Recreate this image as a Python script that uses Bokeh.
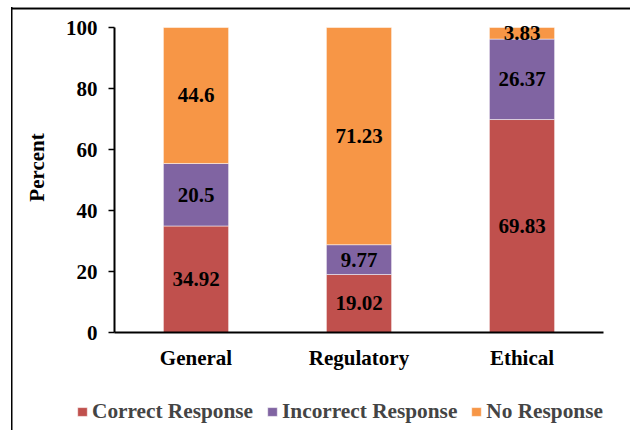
import math
from bokeh.plotting import figure
from bokeh.models import (ColumnDataSource, Legend, LegendItem, LabelSet, Label, Range1d,
                          FixedTicker, CustomLabelingPolicy)
from bokeh.embed import file_html
from bokeh.resources import INLINE

categories = ["General", "Regulatory", "Ethical"]
correct = [34.92, 19.02, 69.83]
incorrect = [20.5, 9.77, 26.37]
no_response = [44.6, 71.23, 3.83]
series_names = ["Correct Response", "Incorrect Response", "No Response"]
colors = ["#C0504D", "#8064A2", "#F79646"]
y_ticks = [0, 20, 40, 60, 80, 100]

FONT = "Liberation Serif"
FS = "21px"

# ---- layout (pixels) ----
W, H = 630, 430
FL, FR, FT, FB = 22, 630, 12, 426      # plot frame edges
X0_PX, CAT_PX = 195.5, 163.0            # centre of first category, px per category
Y0_PX, Y100_PX = 332.0, 27.0            # rows of value 0 and 100


def px_to_x(px):
    return 1 + (px - X0_PX) / CAT_PX


def px_to_y(py):
    return (Y0_PX - py) * 100.0 / (Y0_PX - Y100_PX)


xpos = list(range(1, len(categories) + 1))

src = ColumnDataSource(dict(
    x=xpos,
    correct=correct,
    incorrect=incorrect,
    no_response=no_response,
))

p = figure(x_range=Range1d(px_to_x(FL), px_to_x(FR)),
           y_range=Range1d(px_to_y(FB), px_to_y(FT)),
           width=W, height=H, output_backend="svg", toolbar_location=None,
           min_border_left=FL, min_border_right=W - FR, min_border_top=FT,
           min_border_bottom=H - FB)
p.border_fill_alpha = 0
p.background_fill_alpha = 0
p.styles = {
    "background": "linear-gradient(#000,#000) 11px 7px / 1.5px 100% no-repeat, "
                  "linear-gradient(#888,#888) 11px 7px / 100% 1px no-repeat, "
                  "linear-gradient(#000,#000) 11px 8px / 100% 1.5px no-repeat, white"
}
p.xgrid.visible = False
p.ygrid.visible = False
p.outline_line_color = None

renderers = p.vbar_stack(["correct", "incorrect", "no_response"], x="x", width=0.4,
                         source=src, color=colors, line_color="white", line_alpha=0.5,
                         line_width=1)

text_style = dict(text_font=FONT, text_font_style="bold", text_font_size=FS,
                  text_color="black")

# value labels at segment centres
bottoms = [0, 0, 0]
for vals in (correct, incorrect, no_response):
    mids = [b + v / 2 for b, v in zip(bottoms, vals)]
    lsrc = ColumnDataSource(dict(x=xpos, y=mids, t=[f"{v:g}" for v in vals]))
    p.add_layout(LabelSet(x="x", y="y", text="t", source=lsrc, text_align="center",
                          text_baseline="middle", **text_style))
    bottoms = [b + v for b, v in zip(bottoms, vals)]

# ---- y axis (line + ticks) at the left edge of the category band ----
axis_x = xpos[0] - 0.5
yax = p.yaxis[0]
yax.fixed_location = axis_x
yax.bounds = (0, 100)
yax.ticker = FixedTicker(ticks=y_ticks)
yax.major_label_overrides = {t: "" for t in y_ticks}
yax.major_label_policy = CustomLabelingPolicy(code="return []")
yax.major_label_standoff = 0
yax.minor_tick_line_color = None
yax.major_tick_in = 0
yax.major_tick_out = 6
yax.major_tick_line_width = 1.5
yax.major_tick_line_color = "black"
yax.axis_line_width = 2
yax.axis_line_color = "black"

tsrc = ColumnDataSource(dict(x=[axis_x] * len(y_ticks), y=y_ticks,
                             t=[str(t) for t in y_ticks]))
p.add_layout(LabelSet(x="x", y="y", text="t", source=tsrc, x_offset=-17,
                      text_align="right", text_baseline="middle", **text_style))

p.add_layout(Label(x=px_to_x(36.5), y=px_to_y(167), text="Percent", angle=math.pi / 2,
                   text_align="center", text_baseline="middle", **text_style))

# ---- x axis (line only) at value 0 ----
xax = p.xaxis[0]
xax.fixed_location = 0
xax.bounds = (xpos[0] - 0.5, xpos[-1] + 0.5)
xax.ticker = FixedTicker(ticks=[])
xax.minor_tick_line_color = None
xax.major_tick_line_color = None
xax.major_tick_in = 0
xax.major_tick_out = 0
xax.major_label_standoff = 0
xax.axis_line_width = 2
xax.axis_line_color = "black"

csrc = ColumnDataSource(dict(x=xpos, y=[0] * len(xpos), t=categories))
p.add_layout(LabelSet(x="x", y="y", text="t", source=csrc, y_offset=-25,
                      text_align="center", text_baseline="middle", **text_style))

# ---- legend ----
LEG_H = 24
items = [LegendItem(label=n, renderers=[r]) for n, r in zip(series_names, renderers)]
legend = Legend(items=items, orientation="horizontal", location=(76 - FL, FB - 400 - LEG_H),
                label_text_font=FONT, label_text_font_style="bold",
                label_text_font_size="21.3px", label_height=LEG_H,
                glyph_width=12, glyph_height=11,
                label_standoff=4, spacing=13, padding=0, margin=0,
                border_line_color=None, background_fill_alpha=0)
p.add_layout(legend, "center")

open("out.html", "w").write(file_html(p, INLINE))
